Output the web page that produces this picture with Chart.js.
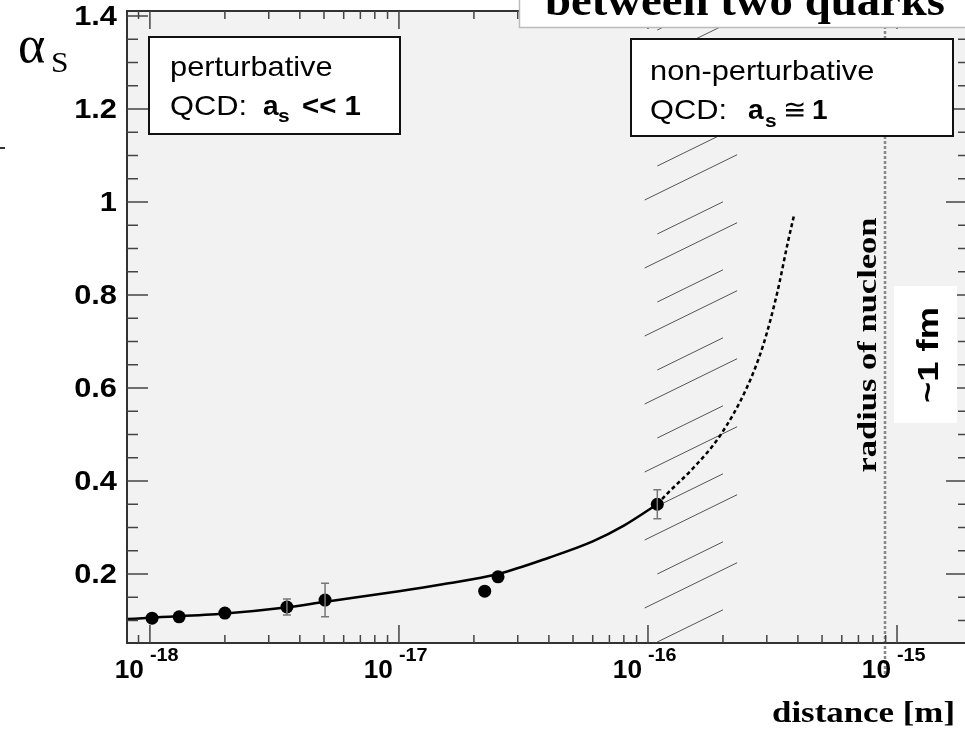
<!DOCTYPE html>
<html>
<head>
<meta charset="utf-8">
<script src="https://cdn.jsdelivr.net/npm/chart.js@4/dist/chart.umd.min.js"></script>
<style>
  body { margin: 0; background: #fff; }
  canvas { display: block; background: #fff; }
</style>
</head>
<body>
<canvas id="c" width="965" height="730"></canvas>
<script>
// measured points (distance in m, alpha_s)
const ptX = [1.02e-18, 1.31e-18, 2.0e-18, 3.55e-18, 5.05e-18, 2.21e-17, 2.5e-17, 1.09e-16];
const ptY = [0.105, 0.108, 0.116, 0.129, 0.144, 0.163, 0.194, 0.350];
const ptErr = [0, 0, 0, 0.017, 0.036, 0, 0, 0.031];

// QCD curve, solid part
const fitX = [8.1e-19, 1e-18, 2e-18, 3.5e-18, 5e-18, 1e-17, 1.5e-17, 2.5e-17, 4e-17, 6e-17, 8e-17, 1.09e-16];
const fitY = [0.103, 0.106, 0.115, 0.128, 0.140, 0.163, 0.178, 0.200, 0.235, 0.270, 0.304, 0.350];

// extrapolation, dashed part
const extX = [1.09e-16, 1.19e-16, 1.52e-16, 1.95e-16, 2.5e-16, 2.9e-16, 3.3e-16, 3.65e-16, 3.86e-16];
const extY = [0.350, 0.372, 0.428, 0.498, 0.602, 0.692, 0.804, 0.915, 0.972];

// axes
const xExp = [-18, -17, -16, -15];
const yTicks = [0.2, 0.4, 0.6, 0.8, 1, 1.2, 1.4];
const yLabels = ['0.2', '0.4', '0.6', '0.8', '1', '1.2', '1.4'];
const xMin = Math.pow(10, -18.092), xMax = Math.pow(10, -14.727);
const yMin = 0.0516, yMax = 1.411;

const hatchLong = [0.97e-16, 2.28e-16];
const hatchShort = [1.09e-16, 2.0e-16];
const nucleonR = 8.95e-16;

const toXY = (xs, ys) => xs.map((v, i) => ({ x: v, y: ys[i] }));

function txt(ctx, s, x, y, font, sx, align, rot) {
  ctx.save();
  ctx.font = font;
  ctx.textAlign = align || 'left';
  ctx.translate(x, y);
  if (rot) ctx.rotate(rot);
  ctx.scale(sx || 1, 1);
  ctx.fillText(s, 0, 0);
  ctx.restore();
}
function fit(ctx, s, x, y, font, w, align, rot) {
  ctx.font = font;
  const sx = w / ctx.measureText(s).width;
  txt(ctx, s, x, y, font, sx, align, rot);
}

const SANS = '"Liberation Sans", Arial, sans-serif';
const SERIF = '"Liberation Serif", "Times New Roman", serif';

const deco = {
  id: 'deco',
  beforeDatasetsDraw(chart) {
    const { ctx, chartArea: a, scales: { x, y } } = chart;
    ctx.save();
    ctx.fillStyle = '#f2f2f2';
    ctx.fillRect(a.left, a.top, a.right - a.left, a.bottom - a.top);
    ctx.beginPath();
    ctx.rect(a.left, a.top, a.right - a.left, a.bottom - a.top);
    ctx.clip();

    // hatched band
    ctx.strokeStyle = '#555';
    ctx.lineWidth = 1;
    const slope = 0.49;
    [[hatchLong, 35], [hatchShort, 1]].forEach(([band, off]) => {
      const xa = x.getPixelForValue(band[0]), xb = x.getPixelForValue(band[1]);
      for (let y0 = a.bottom - off; y0 > a.top - 60; y0 -= 68) {
        ctx.beginPath();
        ctx.moveTo(xa, y0);
        ctx.lineTo(xb, y0 - (xb - xa) * slope);
        ctx.stroke();
      }
    });
    ctx.restore();

    // radius of nucleon line
    const xn = x.getPixelForValue(nucleonR);
    ctx.save();
    ctx.strokeStyle = '#888';
    ctx.lineWidth = 2.5;
    ctx.setLineDash([3, 2]);
    ctx.beginPath();
    ctx.moveTo(xn, a.top);
    ctx.lineTo(xn, a.bottom + 34);
    ctx.stroke();
    ctx.restore();
  },
  afterDatasetsDraw(chart) {
    const { ctx, chartArea: a, scales: { x, y } } = chart;
    ctx.save();

    // error bars
    ctx.strokeStyle = '#777';
    ctx.lineWidth = 1.5;
    ptX.forEach((v, i) => {
      if (!ptErr[i]) return;
      const px = x.getPixelForValue(v);
      const y1 = y.getPixelForValue(ptY[i] - ptErr[i]), y2 = y.getPixelForValue(ptY[i] + ptErr[i]);
      ctx.beginPath();
      ctx.moveTo(px, y1); ctx.lineTo(px, y2);
      ctx.moveTo(px - 4, y1); ctx.lineTo(px + 4, y1);
      ctx.moveTo(px - 4, y2); ctx.lineTo(px + 4, y2);
      ctx.stroke();
    });

    // frame
    ctx.strokeStyle = '#333';
    ctx.lineWidth = 2;
    ctx.beginPath();
    ctx.moveTo(a.right, a.top); ctx.lineTo(a.left, a.top);
    ctx.lineTo(a.left, a.bottom); ctx.lineTo(a.right, a.bottom);
    ctx.stroke();

    // x ticks (bottom and top, inward)
    ctx.lineWidth = 1.5;
    ctx.strokeStyle = '#444';
    for (let e = -19; e <= -15; e++) {
      for (let m = 1; m <= 9; m++) {
        const v = m * Math.pow(10, e);
        if (v < xMin || v > xMax) continue;
        const px = x.getPixelForValue(v);
        const len = m === 1 ? 18 : 8;
        ctx.beginPath();
        ctx.moveTo(px, a.bottom); ctx.lineTo(px, a.bottom - len);
        ctx.moveTo(px, a.top); ctx.lineTo(px, a.top + len);
        ctx.stroke();
      }
    }
    // y ticks (left and right, inward)
    for (let i = 1; i <= 28; i++) {
      const v = i * 0.05;
      if (v < yMin || v > yMax) continue;
      const py = y.getPixelForValue(v);
      const major = i % 4 === 0;
      ctx.beginPath();
      ctx.moveTo(a.left, py); ctx.lineTo(a.left + (major ? 21 : 11), py);
      ctx.moveTo(a.right, py); ctx.lineTo(a.right - (major ? 19 : 7), py);
      ctx.stroke();
    }

    // tick labels
    ctx.fillStyle = '#000';
    ctx.textBaseline = 'middle';
    yTicks.forEach((v, i) => {
      txt(ctx, yLabels[i], a.left - 10, y.getPixelForValue(v) + 1, 'bold 28px ' + SANS, 1.1, 'right');
    });
    ctx.textBaseline = 'alphabetic';
    xExp.forEach(e => {
      const px = x.getPixelForValue(Math.pow(10, e));
      txt(ctx, '10', px - 6, a.bottom + 35, 'bold 25px ' + SANS, 1.05, 'right');
      txt(ctx, String(e), px, a.bottom + 18, 'bold 18px ' + SANS, 1.1, 'left');
    });

    // axis titles
    txt(ctx, '\u03B1', 18, 62, '52px ' + SERIF, 1.0, 'left');
    txt(ctx, 'S', 51, 72, '30px ' + SERIF, 1.05, 'left');
    fit(ctx, 'distance [m]', 955, 722, 'bold 29px ' + SERIF, 183, 'right');

    // title strip
    ctx.fillStyle = '#fff';
    ctx.fillRect(519, 0, 446, 27);
    ctx.strokeStyle = '#bbb';
    ctx.lineWidth = 1.5;
    ctx.beginPath();
    ctx.moveTo(519.5, 0); ctx.lineTo(519.5, 27.5); ctx.lineTo(965, 27.5);
    ctx.stroke();
    ctx.fillStyle = '#000';
    fit(ctx, 'between two quarks', 945, 15, 'bold 44px ' + SERIF, 400, 'right');

    // text boxes
    ctx.lineWidth = 2;
    ctx.strokeStyle = '#111';
    [[149, 37, 251, 97], [631, 39, 322, 97]].forEach(r => {
      ctx.fillStyle = '#fff';
      ctx.fillRect(r[0], r[1], r[2], r[3]);
      ctx.strokeRect(r[0], r[1], r[2], r[3]);
    });
    ctx.fillStyle = '#000';
    const reg = '28px ' + SANS, bold = 'bold 28px ' + SANS, sub = 'bold 19px ' + SANS;
    txt(ctx, 'perturbative', 170, 76, reg, 1.1);
    txt(ctx, 'QCD:', 170, 115, reg, 1.1);
    txt(ctx, 'a', 263, 115, bold, 1.0);
    txt(ctx, 's', 278, 122, sub, 1.1);
    txt(ctx, '<< 1', 302, 115, bold, 1.05);

    txt(ctx, 'non-perturbative', 650, 80, reg, 1.1);
    txt(ctx, 'QCD:', 650, 119, reg, 1.1);
    txt(ctx, 'a', 748, 119, bold, 1.0);
    txt(ctx, 's', 765, 127, sub, 1.1);
    txt(ctx, '\u2245', 783, 119, reg, 1.0);
    txt(ctx, '1', 812, 119, bold, 1.0);

    // nucleon labels
    fit(ctx, 'radius of nucleon', 876, 345, 'bold 27px ' + SERIF, 255, 'center', -Math.PI / 2);
    ctx.fillStyle = '#fff';
    ctx.fillRect(894, 286, 63, 137);
    ctx.fillStyle = '#000';
    fit(ctx, '~1 fm', 938, 355, 'bold 30px ' + SANS, 96, 'center', -Math.PI / 2);

    // stray mark at the left border
    ctx.fillStyle = '#333';
    ctx.fillRect(0, 147, 5, 2);
    ctx.restore();
  }
};

new Chart(document.getElementById('c'), {
  type: 'scatter',
  data: {
    datasets: [{
      type: 'line',
      data: toXY(fitX, fitY),
      borderColor: '#000',
      borderWidth: 2.5,
      pointRadius: 0,
      cubicInterpolationMode: 'monotone'
    }, {
      type: 'line',
      data: toXY(extX, extY),
      borderColor: '#000',
      borderWidth: 2.5,
      borderDash: [4, 3],
      pointRadius: 0,
      cubicInterpolationMode: 'monotone'
    }, {
      data: toXY(ptX, ptY),
      backgroundColor: '#000',
      borderWidth: 0,
      pointRadius: 6.5
    }]
  },
  options: {
    responsive: false,
    devicePixelRatio: 1,
    animation: false,
    layout: { autoPadding: false, padding: { left: 127, top: 11, right: 0, bottom: 87 } },
    scales: {
      x: { type: 'logarithmic', min: xMin, max: xMax, display: false },
      y: { type: 'linear', min: yMin, max: yMax, display: false }
    },
    plugins: {
      legend: { display: false },
      tooltip: { enabled: false }
    }
  },
  plugins: [deco]
});
</script>
</body>
</html>
